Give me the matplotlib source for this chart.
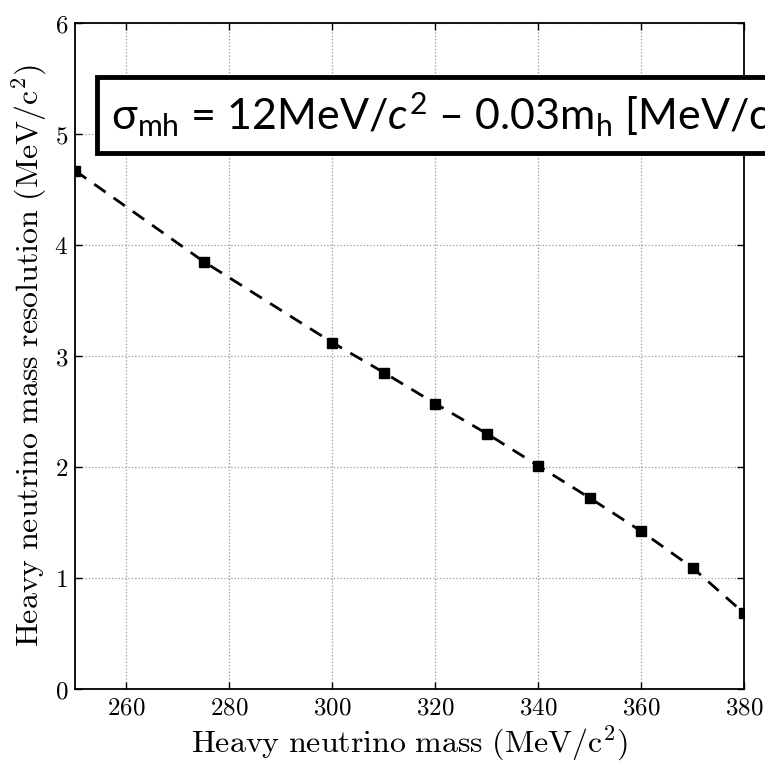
"""
Heavy neutrino mass resolution vs mass
"""
import matplotlib
matplotlib.use('Agg')
import matplotlib.pyplot as plt

plt.rcParams['mathtext.fontset'] = 'cm'
plt.rcParams['mathtext.rm'] = 'Lato'
plt.rcParams['mathtext.it'] = 'Lato:italic'

mass = [250, 275, 300, 310, 320, 330, 340, 350, 360, 370, 380]
resolution = [4.67, 3.85, 3.12, 2.85, 2.57, 2.30, 2.01, 1.72, 1.42, 1.09, 0.68]
xticks = [260, 280, 300, 320, 340, 360, 380]
yticks = [0, 1, 2, 3, 4, 5, 6]

fig = plt.figure(figsize=(7.65, 7.63), dpi=100)
ax = fig.add_axes([0.098, 0.097, 0.875, 0.873])

ax.plot(mass, resolution, color='k', ls=(0, (5, 3.5)), lw=2, marker='s', ms=7.5)

ax.set_xlim(250, 380)
ax.set_ylim(0, 6)
ax.set_xticks(xticks)
ax.set_yticks(yticks)
ax.set_xticklabels([r'$\mathrm{%d}$' % t for t in xticks], fontsize=18)
ax.set_yticklabels([r'$\mathrm{%d}$' % t for t in yticks], fontsize=18)
ax.tick_params(direction='in', top=True, right=True, length=5, width=1, pad=5)
ax.grid(True, ls=':', color='0.6', lw=0.9)
for s in ax.spines.values():
    s.set_linewidth(1.3)

ax.set_xlabel(r'$\mathrm{Heavy\ neutrino\ mass\ (MeV/c^2)}$', fontsize=23, labelpad=3)
ax.set_ylabel(r'$\mathrm{Heavy\ neutrino\ mass\ resolution\ (MeV/c^2)}$', fontsize=23, labelpad=4)

# fit formula box, runs past the right edge like the original
fig.text(0.145, 0.849,
         r'$\mathrm{σ}_\mathrm{mh}$ = 12MeV/$\mathit{c}^\mathrm{2}$ – 0.03m$_\mathrm{h}$ [MeV/c$^\mathrm{2}$]',
         fontsize=31, family='Lato', va='center', ha='left',
         math_fontfamily='custom',
         bbox=dict(boxstyle='square,pad=0.32', fc='white', ec='black', lw=3.5))

fig.savefig('out.png', dpi=100)
